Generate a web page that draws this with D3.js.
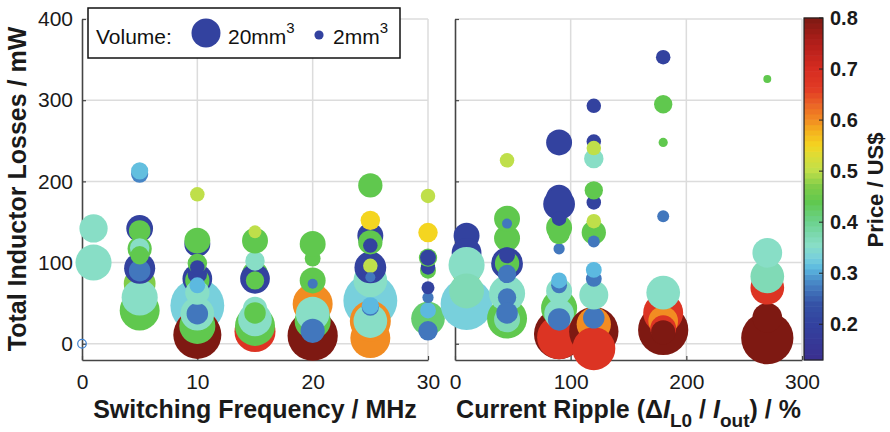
<!DOCTYPE html>
<html>
<head>
<meta charset="utf-8">
<script src="https://cdn.jsdelivr.net/npm/d3@7"></script>
<style>
  body { margin: 0; background: #fff; }
  text { font-family: "Liberation Sans", Arial, Helvetica, sans-serif; }
</style>
</head>
<body>
<svg id="chart" width="890" height="432"></svg>
<script>
// ---- Inductor designs plotted against switching frequency (drawn in list order) ----
const freqMHz = [
  1, 1,
  5, 5, 5, 5, 5, 5, 5, 5, 5, 5, 5, 5,
  10, 10, 10, 10, 10, 10, 10, 10, 10, 10, 10, 10, 10, 10, 10, 10,
  15, 15, 15, 15, 15, 15, 15, 15, 15, 15, 15,
  20, 20, 20, 20, 20, 20, 20, 20, 20,
  25, 25, 25, 25, 25, 25, 25, 25, 25, 25, 25, 25, 25, 25, 25,
  30, 30, 30, 30, 30, 30, 30, 30, 30, 30, 30
];
const freqLoss = [
  142, 100,
  41, 74, 57, 93, 90, 142, 139, 117, 118, 109, 209, 213,
  47, 16, 11, 22, 37, 37, 123, 127, 80, 78, 86, 99, 94, 63, 72, 184,
  15, 22, 30, 43, 38, 86, 80, 78, 102, 127, 138,
  49, 10, 28, 37, 16, 78, 74, 105, 123,
  53, 7, 28, 28, 45, 47, 78, 94, 96, 82, 133, 125, 121, 152, 195,
  31, 16, 41, 57, 69, 90, 94, 106, 106, 137, 182
];
const freqVolume = [
  19, 31,
  38, 24, 31, 23, 11, 17, 11, 14, 9, 8, 7, 7,
  69, 46, 55, 31, 27, 11, 16, 16, 21, 14, 9, 9, 5, 14, 6, 5,
  40, 38, 27, 14, 11, 16, 21, 8, 9, 16, 4,
  38, 60, 31, 27, 14, 16, 2.4, 6, 16,
  69, 38, 40, 27, 7, 7, 27, 24, 5, 2.4, 16, 14, 5, 9, 14,
  27, 9, 6, 3, 4, 6, 5, 8, 6, 9, 5
];
const freqPrice = [
  0.355, 0.355,
  0.44, 0.47, 0.355, 0.2, 0.27, 0.2, 0.44, 0.44, 0.355, 0.44, 0.28, 0.315,
  0.33, 0.68, 0.8, 0.44, 0.355, 0.27, 0.2, 0.44, 0.2, 0.44, 0.2, 0.44, 0.2, 0.355, 0.31, 0.5,
  0.68, 0.44, 0.355, 0.355, 0.44, 0.44, 0.2, 0.44, 0.355, 0.44, 0.5,
  0.6, 0.8, 0.44, 0.355, 0.27, 0.44, 0.27, 0.44, 0.44,
  0.33, 0.6, 0.6, 0.355, 0.27, 0.31, 0.355, 0.2, 0.5, 0.27, 0.2, 0.44, 0.2, 0.55, 0.44,
  0.42, 0.27, 0.31, 0.27, 0.2, 0.44, 0.2, 0.44, 0.2, 0.55, 0.5
];
// open reference marker at the origin of the frequency panel
const openMarker = [0, 0];

// ---- The same kind of designs plotted against current ripple ----
const ripplePct = [
  10, 10, 10, 10, 10, 10,
  45, 45, 45, 45, 45, 45, 45, 45, 45, 45, 45, 45, 45,
  90, 90, 90, 90, 90, 90, 90, 90, 90, 90, 90, 90, 90, 90, 90,
  120, 120, 120, 120, 120, 120, 120, 120, 120, 120, 120, 120, 120, 120, 120, 120,
  180, 180, 180, 180, 180, 180, 180, 180, 180, 180,
  270, 270, 270, 270, 270, 270
];
const rippleLoss = [
  133, 112, 90, 97, 49, 65,
  31, 62, 57, 30, 38, 130, 154, 148, 99, 99, 109, 86, 226,
  12, 8, 44, 37, 30, 65, 72, 78, 117, 143, 136, 180, 172, 154, 248,
  15, 24, -6, 32, 60, 80, 91, 137, 151, 126, 174, 189, 228, 249, 241, 293,
  17, 38, 28, 19, 14, 63, 157, 248, 295, 353,
  7, 32, 69, 83, 112, 326
];
const rippleVolume = [
  16, 21, 21, 31, 64, 29,
  38, 31, 8, 16, 11, 16, 16, 2.4, 24, 14, 6, 8, 5,
  60, 46, 31, 21, 12, 16, 6, 6, 3, 16, 11, 16, 24, 5, 16,
  58, 28, 44, 11, 20, 6, 6, 14, 5, 3.4, 5, 8, 9, 5, 5, 5,
  60, 38, 21, 16, 14, 27, 3.4, 2, 8, 5,
  65, 21, 27, 27, 21, 1.5
];
const ripplePrice = [
  0.2, 0.2, 0.47, 0.355, 0.33, 0.37,
  0.44, 0.355, 0.27, 0.37, 0.27, 0.44, 0.44, 0.27, 0.2, 0.44, 0.2, 0.27, 0.5,
  0.8, 0.68, 0.44, 0.355, 0.27, 0.355, 0.27, 0.31, 0.27, 0.44, 0.44, 0.2, 0.2, 0.2, 0.2,
  0.8, 0.6, 0.68, 0.27, 0.355, 0.27, 0.31, 0.44, 0.5, 0.27, 0.2, 0.44, 0.355, 0.2, 0.5, 0.2,
  0.8, 0.68, 0.6, 0.68, 0.8, 0.355, 0.27, 0.44, 0.44, 0.2,
  0.8, 0.8, 0.68, 0.37, 0.355, 0.44
];

// ---- Axis ticks ----
const lossTicks = [0, 100, 200, 300, 400];
const freqTicks = [0, 10, 20, 30];
const rippleTicks = [0, 100, 200, 300];
const priceTicks = [0.2, 0.3, 0.4, 0.5, 0.6, 0.7, 0.8];
const priceRange = [0.13, 0.8];

// ---- Colour map for price ----
const priceStops = [0.13, 0.17, 0.2, 0.24, 0.27, 0.29, 0.31, 0.33, 0.355, 0.37, 0.40,
                    0.44, 0.47, 0.50, 0.53, 0.55, 0.58, 0.60, 0.63, 0.66, 0.70, 0.75, 0.80];
const priceColors = ["#3b2f8f", "#353a98", "#33429f", "#3552a6", "#4277bd", "#4c93cc",
                     "#5cb9e0", "#78d0dc", "#88dec6", "#80dab6", "#6cd28e", "#60c84e",
                     "#80cc48", "#bfdf4a", "#dcdc36", "#f4d520", "#f4b01e", "#f28c22",
                     "#ea6526", "#e23c25", "#d62c21", "#b21e1a", "#7e1912"];

// ---- Legend volumes ----
const legendVolumes = [20, 2];
const legendLabels = ["20mm", "2mm"];

const svg = d3.select("#chart");
const AXIS = "#454545", GRID = "#dcdcdc";

const y = d3.scaleLinear().domain([-20, 400]).range([360, 19]);
const xF = d3.scaleLinear().domain([0, 30]).range([82, 428]);
const xR = d3.scaleLinear().domain([0, 300]).range([455, 802]);
const rad = d3.scaleSqrt().domain([0, 20]).range([0, 14.5]);
const color = d3.scaleLinear().domain(priceStops).range(priceColors).interpolate(d3.interpolateRgb);

function drawFrame(x, xTicks, yLabels) {
  const g = svg.append("g");
  const [x0, x1] = x.range();
  g.selectAll("line.hg").data(lossTicks).join("line")
    .attr("x1", x0).attr("x2", x1)
    .attr("y1", d => y(d)).attr("y2", d => y(d))
    .attr("stroke", GRID).attr("stroke-width", 1.5);
  g.selectAll("line.vg").data(xTicks.filter(d => d > 0)).join("line")
    .attr("x1", d => x(d)).attr("x2", d => x(d))
    .attr("y1", y(400)).attr("y2", y(-20))
    .attr("stroke", GRID).attr("stroke-width", 1.5);

  const ax = d3.axisBottom(x).tickValues(xTicks).tickSize(-4).tickSizeOuter(0).tickPadding(14);
  const axG = g.append("g").attr("transform", `translate(0,${y(-20)})`).call(ax);
  const ay = d3.axisLeft(y).tickValues(lossTicks).tickSize(-4).tickSizeOuter(0).tickPadding(9);
  if (!yLabels) ay.tickFormat("");
  const ayG = g.append("g").attr("transform", `translate(${x0},0)`).call(ay);
  [axG, ayG].forEach(a => {
    a.select(".domain").attr("stroke", AXIS).attr("stroke-width", 1.6);
    a.selectAll(".tick line").attr("stroke", AXIS).attr("stroke-width", 1.2);
    a.selectAll("text").attr("font-size", 21).attr("fill", "#1a1a1a")
      .attr("font-family", "'Liberation Sans', Arial, sans-serif");
  });
}

drawFrame(xF, freqTicks, true);
drawFrame(xR, rippleTicks, false);

// ---- Bubbles ----
function drawBubbles(x, xs, loss, vol, price) {
  svg.append("g").selectAll("circle").data(xs.map((d, i) => i)).join("circle")
    .attr("cx", i => x(xs[i]))
    .attr("cy", i => y(loss[i]))
    .attr("r", i => rad(vol[i]))
    .attr("fill", i => color(price[i]));
}
drawBubbles(xF, freqMHz, freqLoss, freqVolume, freqPrice);
drawBubbles(xR, ripplePct, rippleLoss, rippleVolume, ripplePrice);

svg.append("circle")
  .attr("cx", xF(openMarker[0])).attr("cy", y(openMarker[1])).attr("r", 4.3)
  .attr("fill", "none").attr("stroke", "#3d80d0").attr("stroke-width", 1.2);

// ---- Axis titles ----
svg.append("text")
  .attr("transform", `translate(26,189) rotate(-90)`)
  .attr("text-anchor", "middle").attr("font-weight", "bold").attr("font-size", 25)
  .attr("fill", "#1a1a1a").text("Total Inductor Losses / mW");

svg.append("text")
  .attr("x", (xF.range()[0] + xF.range()[1]) / 2).attr("y", 418)
  .attr("text-anchor", "middle").attr("font-weight", "bold").attr("font-size", 25)
  .attr("fill", "#1a1a1a").text("Switching Frequency / MHz");

const rt = svg.append("text")
  .attr("x", (xR.range()[0] + xR.range()[1]) / 2).attr("y", 418)
  .attr("text-anchor", "middle").attr("font-weight", "bold").attr("font-size", 25)
  .attr("fill", "#1a1a1a");
rt.append("tspan").text("Current Ripple (\u0394");
rt.append("tspan").attr("font-style", "italic").text("I");
rt.append("tspan").attr("font-size", 19).attr("dy", 9).text("L0");
rt.append("tspan").attr("dy", -9).text(" / ");
rt.append("tspan").attr("font-style", "italic").text("I");
rt.append("tspan").attr("font-size", 19).attr("dy", 9).text("out");
rt.append("tspan").attr("dy", -9).text(") / %");

// ---- Colour bar ----
const cb = d3.scaleLinear().domain(priceRange).range([360, 18]);
const cbX = 804, cbW = 19;
const cbG = svg.append("g");
const steps = d3.range(0, 64);
const stepH = (cb.range()[0] - cb.range()[1]) / steps.length;
cbG.selectAll("rect").data(steps).join("rect")
  .attr("x", cbX).attr("width", cbW)
  .attr("y", i => cb.range()[0] - (i + 1) * stepH - 0.3)
  .attr("height", stepH + 0.6)
  .attr("fill", i => color(priceRange[0] + (i + 0.5) / steps.length * (priceRange[1] - priceRange[0])));
cbG.append("rect").attr("x", cbX).attr("y", cb.range()[1]).attr("width", cbW)
  .attr("height", cb.range()[0] - cb.range()[1])
  .attr("fill", "none").attr("stroke", "#222").attr("stroke-width", 1.2);
cbG.selectAll("line.t").data(priceTicks).join("line")
  .attr("x1", cbX + cbW - 4).attr("x2", cbX + cbW)
  .attr("y1", d => cb(d)).attr("y2", d => cb(d))
  .attr("stroke", "#222").attr("stroke-width", 1);
cbG.selectAll("text.t").data(priceTicks).join("text")
  .attr("x", 830).attr("y", d => cb(d)).attr("dy", "0.35em")
  .attr("font-size", 20).attr("font-weight", "bold").attr("fill", "#1a1a1a")
  .text(d => d3.format(".1f")(d));
svg.append("text")
  .attr("transform", "translate(883,190) rotate(-90)")
  .attr("text-anchor", "middle").attr("font-weight", "bold").attr("font-size", 22)
  .attr("fill", "#1a1a1a").text("Price / US$");

// ---- Volume legend ----
const lg = svg.append("g");
lg.append("rect").attr("x", 88).attr("y", 8).attr("width", 312).attr("height", 50)
  .attr("fill", "#fff").attr("stroke", "#111").attr("stroke-width", 1.5);
lg.append("text").attr("x", 96).attr("y", 44).attr("font-size", 21).attr("fill", "#111").text("Volume:");
const legendX = [206, 319], legendTextX = [228, 333];
legendVolumes.forEach((v, i) => {
  lg.append("circle").attr("cx", legendX[i]).attr("cy", i === 0 ? 33 : 35)
    .attr("r", rad(v)).attr("fill", color(0.2));
  const t = lg.append("text").attr("x", legendTextX[i]).attr("y", 44)
    .attr("font-size", 21).attr("fill", "#111");
  t.append("tspan").text(legendLabels[i]);
  t.append("tspan").attr("font-size", 15).attr("dy", -11).text("3");
});
</script>
</body>
</html>
